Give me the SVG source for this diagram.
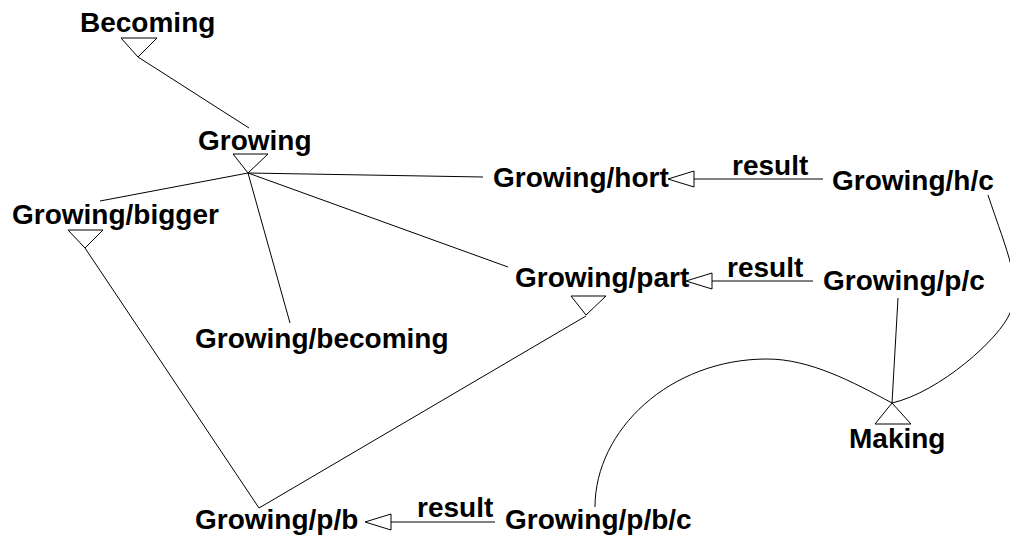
<svg xmlns="http://www.w3.org/2000/svg" width="1010" height="538" viewBox="0 0 1010 538">
<style>
text{font-family:"Liberation Sans",Arial,sans-serif;font-size:28px;font-weight:bold;fill:#000}
.c{fill:none;stroke:#000;stroke-width:1}
.t{fill:#fff;stroke:#000;stroke-width:1}
</style>
<rect width="1010" height="538" fill="#fff"/>
<g id="connectors">
<line class="c" x1="138" y1="57" x2="249" y2="128"/>
<line class="c" x1="248" y1="173" x2="100" y2="201"/>
<line class="c" x1="248" y1="173" x2="483" y2="177"/>
<line class="c" x1="248" y1="173" x2="290" y2="323"/>
<line class="c" x1="248" y1="173" x2="508" y2="267"/>
<line class="c" x1="85" y1="248" x2="259" y2="508"/>
<line class="c" x1="586" y1="316" x2="259" y2="508"/>
<line class="c" x1="898" y1="298" x2="892" y2="403"/>
<path class="c" d="M988,195 C1008,255 1022,283 1010,313 C1000,338 940,392 892,403"/>
<path class="c" d="M595,507 C595,430 670,359 767,359 C810,359 853,382 892,403"/>
<g id="result1"><line class="c" x1="694" y1="179" x2="823" y2="179"/><polygon class="t" points="668,179 694,171 694,187"/><text x="732" y="175">result</text></g>
<g id="result2"><line class="c" x1="712" y1="281" x2="813" y2="281"/><polygon class="t" points="686,281 712,273 712,289"/><text x="727" y="277">result</text></g>
<g id="result3"><line class="c" x1="391" y1="522" x2="495" y2="522"/><polygon class="t" points="365,522 391,514 391,530"/><text x="417" y="517">result</text></g>
</g>
<g id="becoming"><text x="80" y="32">Becoming</text><polygon class="t" points="121,38 157,38 138,57"/></g>
<g id="growing"><text x="198" y="150">Growing</text><polygon class="t" points="233,154 268,154 248,173"/></g>
<g id="growing-bigger"><text x="12" y="224">Growing/bigger</text><polygon class="t" points="68,230 103,230 85,248"/></g>
<g id="growing-hort"><text x="493" y="187">Growing/hort</text></g>
<g id="growing-hc"><text x="832" y="190">Growing/h/c</text></g>
<g id="growing-becoming"><text x="195" y="348">Growing/becoming</text></g>
<g id="growing-part"><text x="515" y="287">Growing/part</text><polygon class="t" points="571,296 606,296 586,315"/></g>
<g id="growing-pc"><text x="823" y="290">Growing/p/c</text></g>
<g id="making"><polygon class="t" points="892,403 875,424 911,424"/><text x="849" y="448">Making</text></g>
<g id="growing-pb"><text x="195" y="529">Growing/p/b</text></g>
<g id="growing-pbc"><text x="505" y="529">Growing/p/b/c</text></g>
</svg>
